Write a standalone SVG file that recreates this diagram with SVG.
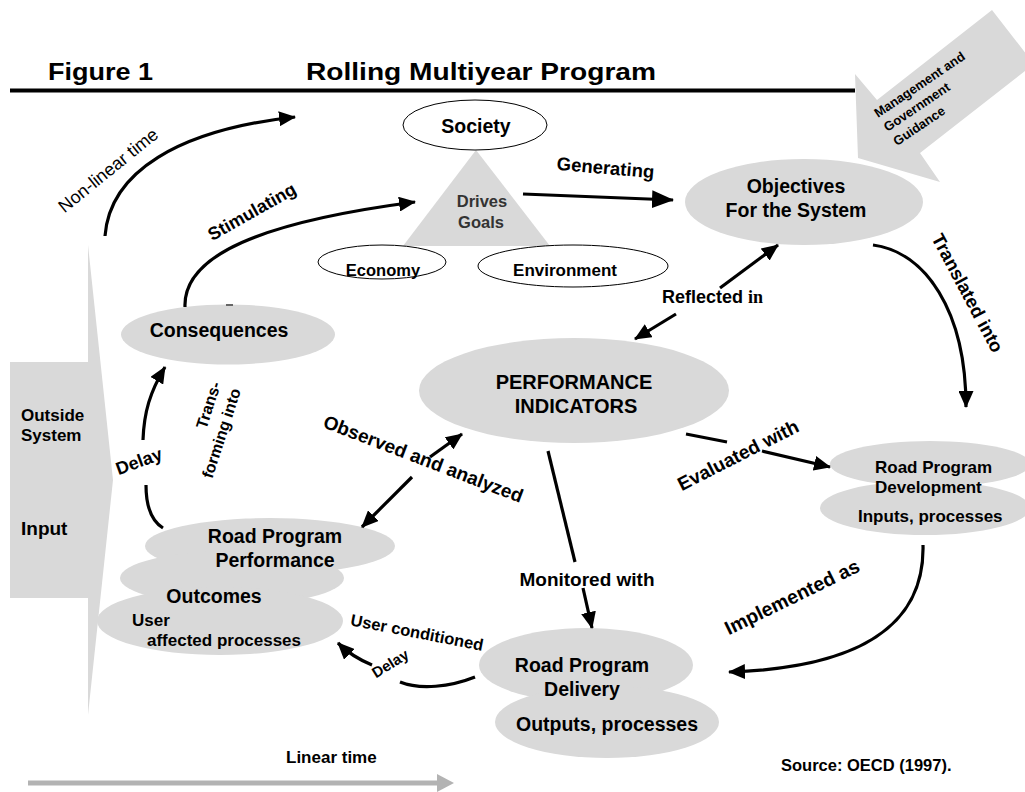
<svg xmlns="http://www.w3.org/2000/svg" width="1025" height="792" viewBox="0 0 1025 792">
<defs>
<style>
text{font-family:"Liberation Sans",Arial,Helvetica,sans-serif;font-weight:bold;fill:#000}
.g{fill:#d9d9d9}
.w{fill:#fff;stroke:#000;stroke-width:1}
.c{fill:none;stroke:#000;stroke-width:3.2}
.cm{fill:none;stroke:#000;stroke-width:3.2;marker-end:url(#ah)}
.cl{fill:none;stroke:#000;stroke-width:3.2;marker-end:url(#ahL)}
.mid{text-anchor:middle}
</style>
<marker id="ah" viewBox="0 0 17 15" refX="16" refY="7.5" markerWidth="17" markerHeight="15" markerUnits="userSpaceOnUse" orient="auto"><path d="M0,0 L17,7.5 L0,15 z" fill="#000"/></marker>
<marker id="ahL" viewBox="0 0 22 18" refX="21" refY="9" markerWidth="22" markerHeight="18" markerUnits="userSpaceOnUse" orient="auto"><path d="M0,0 L22,9 L0,18 z" fill="#000"/></marker>
</defs>
<rect width="1025" height="792" fill="#fff"/>

<g id="title">
<text x="48" y="80" font-size="24" textLength="105" lengthAdjust="spacingAndGlyphs">Figure 1</text>
<text x="306" y="80" font-size="24" textLength="350" lengthAdjust="spacingAndGlyphs">Rolling Multiyear Program</text>
<line x1="10" y1="90.5" x2="855" y2="90.5" stroke="#000" stroke-width="4"/>
</g>

<g id="guidance">
<polygon class="g" points="858,158 855,74 877,100 992,10 1034,64 920,153 940,182"/>
<text font-size="13" transform="rotate(-34 878 118)"><tspan x="878" y="118">Management and</tspan><tspan x="878" y="135">Government</tspan><tspan x="878" y="152">Guidance</tspan></text>
</g>

<g id="outside">
<polygon class="g" points="10,362 88,362 88,245 113,480 88,715 88,598 10,598"/>
<text x="21" y="421" font-size="17">Outside</text>
<text x="21" y="441" font-size="17">System</text>
<text x="21" y="535" font-size="19" font-weight="normal">Input</text>
</g>

<g id="drives">
<polygon class="g" points="476,150 403,246 550,246"/>
<text class="mid" x="482" y="207" font-size="16.5" fill="#333" style="fill:#333">Drives</text>
<text class="mid" x="481" y="228" font-size="16.5" style="fill:#333">Goals</text>
</g>

<g id="society">
<ellipse class="w" cx="475" cy="125" rx="72" ry="25"/>
<text class="mid" x="476" y="133" font-size="19.5">Society</text>
</g>

<g id="economy">
<ellipse class="w" cx="382" cy="262" rx="64" ry="17"/>
<text class="mid" x="383" y="276" font-size="16.5">Economy</text>
</g>

<g id="environment">
<ellipse class="w" cx="573" cy="266" rx="95" ry="21"/>
<text class="mid" x="565" y="276" font-size="17">Environment</text>
</g>

<g id="objectives">
<ellipse class="g" cx="804" cy="202" rx="119" ry="43"/>
<text class="mid" x="796" y="193" font-size="19.5">Objectives</text>
<text class="mid" x="796" y="217" font-size="19.5">For the System</text>
</g>

<g id="consequences">
<ellipse class="g" cx="228" cy="334.5" rx="107" ry="30"/>
<line x1="226" y1="305" x2="233" y2="305" stroke="#666" stroke-width="2"/>
<text class="mid" x="219" y="337" font-size="19.5">Consequences</text>
</g>

<g id="indicators">
<ellipse class="g" cx="574" cy="390.5" rx="155" ry="52.5"/>
<text class="mid" x="574" y="389" font-size="20">PERFORMANCE</text>
<text class="mid" x="576" y="413" font-size="20">INDICATORS</text>
</g>

<g id="development">
<ellipse class="g" cx="930" cy="464" rx="100" ry="23"/>
<ellipse class="g" cx="925" cy="508" rx="105" ry="27"/>
<text x="875" y="473" font-size="17">Road Program</text>
<text x="875" y="493" font-size="17">Development</text>
<text x="858" y="522" font-size="17">Inputs, processes</text>
</g>

<g id="performance">
<ellipse class="g" cx="270" cy="546" rx="125" ry="28"/>
<ellipse class="g" cx="232" cy="578" rx="112" ry="27"/>
<ellipse class="g" cx="220" cy="621" rx="123" ry="34"/>
<text class="mid" x="275" y="543" font-size="19.5">Road Program</text>
<text class="mid" x="275" y="567" font-size="19.5">Performance</text>
<text class="mid" x="214" y="603" font-size="19.5">Outcomes</text>
<text x="132" y="626" font-size="17">User</text>
<text x="147" y="646" font-size="17">affected processes</text>
</g>

<g id="delivery">
<ellipse class="g" cx="586" cy="665" rx="107" ry="37"/>
<ellipse class="g" cx="607" cy="722" rx="112" ry="36"/>
<text class="mid" x="582" y="672" font-size="19.5">Road Program</text>
<text class="mid" x="582" y="696" font-size="19.5">Delivery</text>
<text class="mid" x="607" y="731" font-size="19.5">Outputs, processes</text>
</g>

<g id="connectors">
<path class="cm" d="M105,236 C110,172 178,130 295,117"/>
<text class="mid" font-size="18" font-weight="normal" style="font-weight:normal" transform="translate(112 175) rotate(-39)">Non-linear time</text>

<path class="cm" d="M185,307 C183,255 262,222 415,202"/>
<text class="mid" font-size="18" transform="translate(255 217) rotate(-29.5)">Stimulating</text>

<path class="cl" d="M523,194 L673,200"/>
<text class="mid" font-size="18.5" transform="translate(605 174) rotate(5)">Generating</text>

<path class="cm" d="M676,314 L635,339"/>
<path class="cm" d="M720,288 L778,245"/>
<text x="662" y="303" font-size="18">Reflected <tspan style="font-family:'Liberation Serif','Times New Roman',serif">in</tspan></text>

<path class="cm" d="M873,245 C925,252 966,310 966,407"/>
<text class="mid" font-size="18.5" transform="translate(962 296) rotate(62)">Translated into</text>

<path class="c" d="M686,434 L727,442"/>
<path class="cm" d="M762,451 L830,467"/>
<text class="mid" font-size="19" transform="translate(741 461) rotate(-27)">Evaluated with</text>

<path class="c" d="M548,451 L575,562"/>
<path class="cm" d="M583,588 L592,628"/>
<text class="mid" x="587" y="586" font-size="19">Monitored with</text>

<path class="cm" d="M923,545 C925,625 860,668 729,672"/>
<text class="mid" font-size="19.5" transform="translate(795 603) rotate(-26)">Implemented as</text>

<path class="cm" d="M430,457 L462,434"/>
<path class="cm" d="M412,477 L362,527"/>
<text class="mid" font-size="19" transform="translate(421 465) rotate(21)">Observed and analyzed</text>

<path class="c" d="M475,677 C450,687 420,690 400,682"/>
<path class="cm" d="M372,665 C360,660 348,653 338,643"/>
<text class="mid" font-size="16.5" transform="translate(416 638) rotate(11)">User conditioned</text>
<text class="mid" font-size="15" transform="translate(393 668) rotate(-32)">Delay</text>

<path class="cm" d="M143,440 C144,412 150,392 165,367"/>
<path class="c" d="M163,528 C150,520 146,505 146,485"/>
<text class="mid" font-size="18" transform="translate(141 467) rotate(-20)">Delay</text>

<text font-size="16" text-anchor="end" transform="translate(241 390.5) rotate(-72)"><tspan x="0" y="-21">Trans-</tspan><tspan x="0" y="0">forming into</tspan></text>

<line x1="28" y1="783" x2="440" y2="783" stroke="#b3b3b3" stroke-width="5"/>
<polygon points="437,774 454,783 437,792" fill="#b3b3b3"/>
<text x="286" y="763" font-size="17">Linear time</text>
</g>

<g id="source">
<text x="781" y="771" font-size="16.5">Source: OECD (1997).</text>
</g>
</svg>
